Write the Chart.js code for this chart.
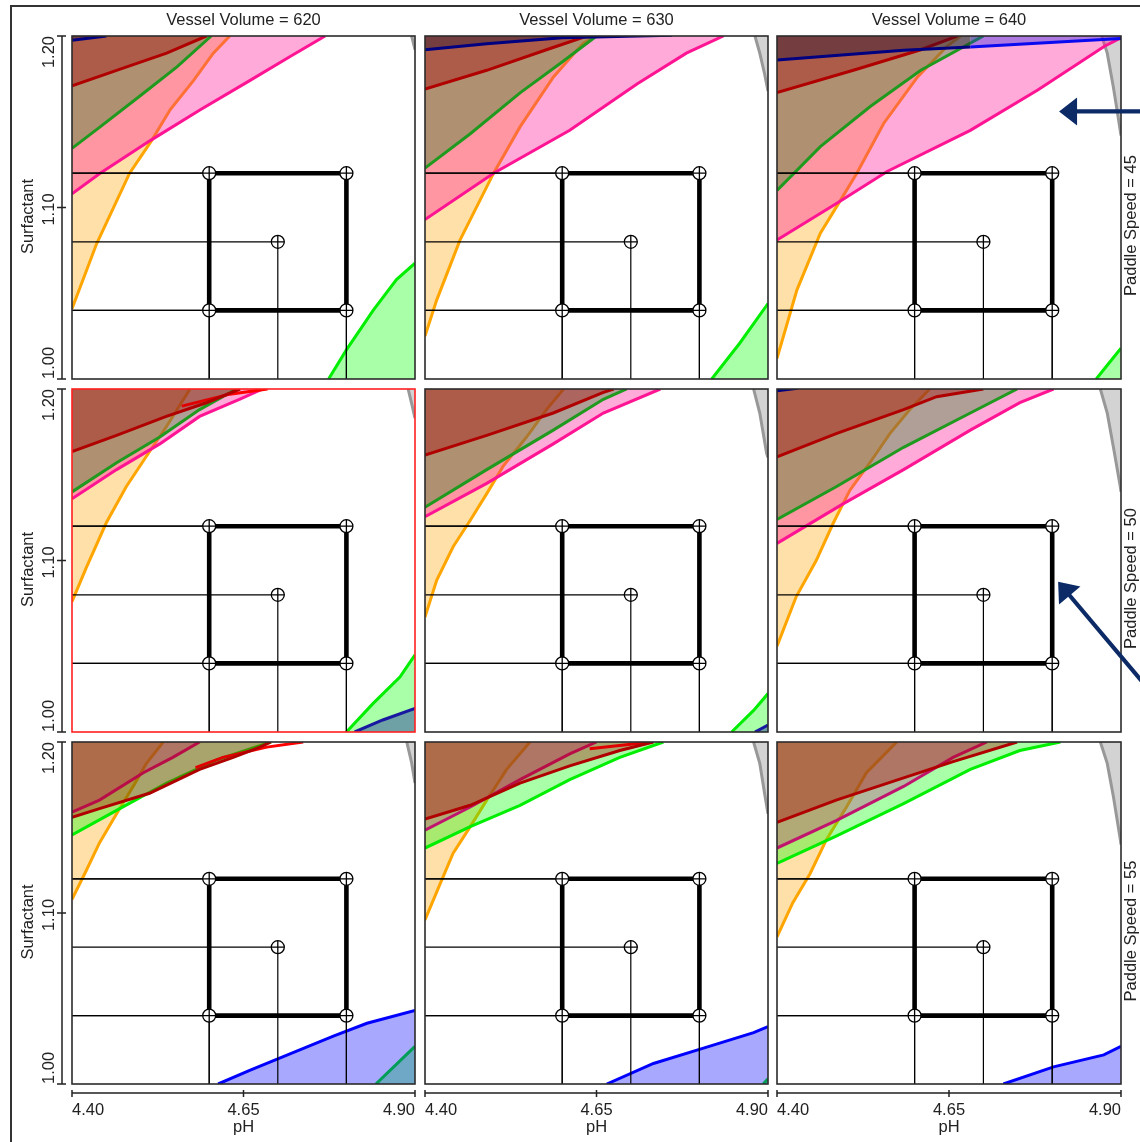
<!DOCTYPE html>
<html>
<head>
<meta charset="utf-8">
<title>Design space by paddle speed and vessel volume</title>
<script src="https://cdn.jsdelivr.net/npm/chart.js@4.4.1/dist/chart.umd.min.js"></script>
<style>
  html, body { margin: 0; padding: 0; background: #fff; }
  #page { position: relative; width: 1140px; height: 1142px; overflow: hidden; background: #fff; }
  #frame { position: absolute; left: 10px; top: 5px; width: 1400px; height: 1400px;
           border-left: 2px solid #333; border-top: 2px solid #333; }
  canvas { position: absolute; }
</style>
</head>
<body>
<div id="page"><div id="frame"></div></div>
<script>
// ---- facet levels and axes ----
const volumes = [620, 630, 640];          // columns
const speeds = [45, 50, 55];              // rows
const phTicks = [4.40, 4.65, 4.90];
const surfTicks = [1.00, 1.10, 1.20];
const phRange = [4.40, 4.90];
const surfRange = [1.00, 1.20];

// ---- design points: factorial corners and centre ----
const designPH   = [4.60, 4.60, 4.80, 4.80, 4.70];
const designSurf = [1.04, 1.12, 1.04, 1.12, 1.08];
const boxPH   = [4.60, 4.80, 4.80, 4.60, 4.60];
const boxSurf = [1.04, 1.04, 1.12, 1.12, 1.04];

// ---- response limit contours, indexed [speed row][volume column], points [pH, surfactant] ----
const grayEdge = [
  [[[4.895,1.20],[4.90,1.192]],
   [[4.881,1.20],[4.888,1.19],[4.895,1.178],[4.90,1.168]],
   [[4.872,1.20],[4.88,1.19],[4.889,1.17],[4.895,1.155],[4.90,1.142]]],
  [[[4.890,1.20],[4.896,1.19],[4.90,1.183]],
   [[4.879,1.20],[4.888,1.186],[4.898,1.1625],[4.90,1.16]],
   [[4.87,1.20],[4.88,1.186],[4.889,1.166],[4.899,1.143],[4.90,1.14]]],
  [[[4.888,1.20],[4.895,1.188],[4.90,1.176]],
   [[4.879,1.20],[4.888,1.1875],[4.895,1.17],[4.90,1.158]],
   [[4.87,1.20],[4.88,1.1875],[4.889,1.168],[4.899,1.143],[4.90,1.14]]]
];
const limeLowEdge = [
  [[[4.774,1.00],[4.80,1.017],[4.839,1.04],[4.873,1.058],[4.90,1.0675]],
   [[4.818,1.00],[4.859,1.021],[4.90,1.044]],
   [[4.864,1.00],[4.88,1.008],[4.90,1.018]]],
  [[[4.80,1.00],[4.839,1.0167],[4.878,1.032],[4.90,1.045]],
   [[4.847,1.00],[4.879,1.0126],[4.90,1.0224]],
   null],
  [[[4.843,1.00],[4.90,1.022]],
   [[4.893,1.00],[4.90,1.003]],
   null]
];
const navyLowEdge = [
  [null, null, null],
  [[[4.812,1.00],[4.853,1.007],[4.90,1.0138]],
   [[4.881,1.00],[4.90,1.004]],
   null],
  [null, null, null]
];
const blueLowEdge = [
  [null, null, null],
  [null, null, null],
  [[[4.613,1.00],[4.659,1.008],[4.708,1.016],[4.781,1.028],[4.83,1.0355],[4.90,1.043]],
   [[4.665,1.00],[4.733,1.012],[4.806,1.021],[4.879,1.030],[4.90,1.0335]],
   [[4.729,1.00],[4.802,1.010],[4.875,1.017],[4.90,1.022]]]
];
const orangeEdge = [
  [[[4.40,1.041],[4.436,1.079],[4.484,1.12],[4.516,1.139],[4.543,1.157],[4.577,1.174],[4.606,1.19],[4.630,1.20]],
   [[4.40,1.025],[4.417,1.046],[4.451,1.081],[4.50,1.12],[4.5385,1.147],[4.587,1.176],[4.631,1.196],[4.650,1.20]],
   [[4.40,1.012],[4.429,1.052],[4.463,1.085],[4.492,1.104],[4.516,1.12],[4.555,1.149],[4.604,1.176],[4.647,1.194],[4.667,1.20]]],
  [[[4.40,1.076],[4.421,1.096],[4.45,1.122],[4.479,1.143],[4.508,1.1605],[4.5375,1.178],[4.572,1.20]],
   [[4.40,1.067],[4.417,1.0885],[4.441,1.108],[4.466,1.1235],[4.49,1.139],[4.514,1.155],[4.548,1.172],[4.577,1.188],[4.602,1.20]],
   [[4.40,1.050],[4.428,1.079],[4.457,1.100],[4.482,1.122],[4.506,1.141],[4.535,1.157],[4.564,1.174],[4.593,1.188],[4.622,1.20]]],
  [[[4.40,1.108],[4.421,1.125],[4.44,1.141],[4.465,1.158],[4.489,1.174],[4.5085,1.1875],[4.533,1.20]],
   [[4.40,1.096],[4.422,1.117],[4.441,1.135],[4.466,1.1505],[4.49,1.166],[4.519,1.184],[4.553,1.20]],
   [[4.40,1.086],[4.423,1.106],[4.448,1.123],[4.472,1.143],[4.501,1.162],[4.530,1.182],[4.574,1.20]]]
];
const pinkEdge = [
  [[[4.40,1.108],[4.441,1.12],[4.514,1.139],[4.587,1.157],[4.659,1.174],[4.718,1.188],[4.769,1.20]],
   [[4.40,1.093],[4.50,1.12],[4.611,1.145],[4.709,1.172],[4.781,1.19],[4.835,1.20]],
   [[4.40,1.081],[4.487,1.1025],[4.56,1.121],[4.681,1.145],[4.779,1.1685],[4.876,1.194],[4.90,1.199]]],
  [[[4.40,1.136],[4.465,1.153],[4.528,1.168],[4.586,1.184],[4.644,1.194],[4.678,1.20]],
   [[4.40,1.1255],[4.49,1.145],[4.587,1.168],[4.66,1.186],[4.743,1.20]],
   [[4.40,1.110],[4.496,1.133],[4.584,1.153],[4.681,1.176],[4.753,1.192],[4.802,1.20]]],
  [null, null, null]
];
const greenEdge = [
  [[[4.40,1.1345],[4.441,1.147],[4.499,1.165],[4.553,1.182],[4.603,1.20]],
   [[4.40,1.123],[4.466,1.143],[4.539,1.167],[4.597,1.184],[4.65,1.20]],
   [[4.40,1.110],[4.463,1.1355],[4.536,1.159],[4.609,1.180],[4.70,1.20]]],
  [[[4.40,1.140],[4.465,1.157],[4.528,1.172],[4.586,1.188],[4.64,1.20]],
   [[4.40,1.131],[4.49,1.153],[4.587,1.176],[4.66,1.194],[4.694,1.20]],
   [[4.40,1.124],[4.486,1.143],[4.584,1.166],[4.681,1.186],[4.749,1.20]]],
  [null, null, null]
];
const limeHighEdge = [
  [null, null, null],
  [null, null, null],
  [[[4.40,1.1456],[4.465,1.160],[4.538,1.176],[4.611,1.1895],[4.69,1.20]],
   [[4.40,1.138],[4.466,1.1505],[4.5385,1.163],[4.611,1.178],[4.684,1.191],[4.7475,1.20]],
   [[4.40,1.129],[4.486,1.145],[4.584,1.164],[4.681,1.184],[4.753,1.195],[4.812,1.20]]]
];
const magentaEdge = [
  [null, null, null],
  [null, null, null],
  [[[4.40,1.159],[4.44,1.166],[4.504,1.182],[4.547,1.191],[4.586,1.20]],
   [[4.40,1.1485],[4.466,1.162],[4.5385,1.178],[4.611,1.193],[4.65,1.20]],
   [[4.40,1.138],[4.486,1.154],[4.584,1.174],[4.656,1.191],[4.705,1.20]]]
];
const redEdge = [
  [null, null, null],
  [[[4.56,1.190],[4.63,1.197],[4.685,1.20]], null, null],
  [[[4.58,1.185],[4.62,1.191],[4.684,1.197],[4.737,1.20]],
   [[4.64,1.196],[4.73,1.20]],
   null]
];
const darkRedEdge = [
  [[[4.40,1.171],[4.465,1.180],[4.538,1.19],[4.596,1.20]],
   [[4.40,1.169],[4.49,1.180],[4.577,1.192],[4.636,1.20]],
   [[4.40,1.167],[4.511,1.180],[4.609,1.192],[4.662,1.20]]],
  [[[4.40,1.1635],[4.465,1.173],[4.5375,1.184],[4.596,1.192],[4.645,1.20]],
   [[4.40,1.1615],[4.49,1.173],[4.587,1.186],[4.66,1.198],[4.675,1.20]],
   [[4.40,1.1605],[4.486,1.174],[4.584,1.188],[4.632,1.1955],[4.70,1.20]]],
  [[[4.40,1.156],[4.44,1.161],[4.513,1.170],[4.586,1.184],[4.635,1.191],[4.674,1.197],[4.69,1.20]],
   [[4.40,1.155],[4.466,1.163],[4.5385,1.176],[4.611,1.186],[4.684,1.195],[4.733,1.20]],
   [[4.40,1.153],[4.486,1.166],[4.584,1.179],[4.656,1.1885],[4.749,1.20]]]
];
const navyHighEdge = [
  [[[4.40,1.1975],[4.45,1.20]],
   [[4.40,1.192],[4.49,1.1955],[4.60,1.199],[4.76,1.2005]],
   [[4.40,1.186],[4.584,1.1917],[4.681,1.1936],[4.90,1.1985]]],
  [null, null, [[4.40,1.199],[4.43,1.2005]]],
  [null, null, null]
];

// ---- drawing styles (bottom layer first) ----
const layers = [
  { edge: grayEdge,     line: '#989898', fill: 'rgba(150,150,150,0.42)', side: 'end' },
  { edge: limeLowEdge,  line: '#00ee00', fill: 'rgba(0,255,0,0.34)',     side: 'start' },
  { edge: navyLowEdge,  line: '#1818a0', fill: 'rgba(20,20,160,0.40)',   side: 'start' },
  { edge: blueLowEdge,  line: '#0000ff', fill: 'rgba(0,0,255,0.34)',     side: 'start' },
  { edge: orangeEdge,   line: '#ffa500', fill: 'rgba(255,165,0,0.34)',   side: 'end' },
  { edge: pinkEdge,     line: '#ff1493', fill: 'rgba(255,20,147,0.36)',  side: 'end' },
  { edge: greenEdge,    line: '#1f9a1f', fill: 'rgba(34,139,34,0.36)',   side: 'end' },
  { edge: limeHighEdge, line: '#00ee00', fill: 'rgba(0,255,0,0.34)',     side: 'end' },
  { edge: magentaEdge,  line: '#c0156e', fill: 'rgba(199,21,133,0.30)',  side: 'end' },
  { edge: redEdge,      line: '#ff0000', fill: false,                    side: false },
  { edge: darkRedEdge,  line: '#b00000', fill: 'rgba(170,0,0,0.36)',     side: 'end' },
  { edge: navyHighEdge, line: '#000080', fill: 'rgba(30,15,50,0.40)', side: 'end',
    split: 4.62, lineRight: '#0a0af0', fillRight: 'rgba(30,30,240,0.36)' }
];

// annotation arrows: tip in data units, direction in screen space
const arrowNotes = [
  { row: 0, tip: [4.810, 1.156], dir: [1, 0] },
  { row: 1, tip: [4.8086, 1.0876], dir: [0.644, 0.765] }
];

// ---- page geometry ----
const PAGE_W = 1140, PAGE_H = 1142;
const colLeft = [72, 425, 777], colWidth = [343, 343, 344];
const rowTop = [36, 389, 742], rowHeight = [343, 343, 342];
const FONT = '16.5px "Liberation Sans", Arial, sans-serif';
const INK = '#222';

function rotatedText(ctx, text, x, y, align) {
  ctx.save();
  ctx.translate(x, y);
  ctx.rotate(-Math.PI / 2);
  ctx.textAlign = align;
  ctx.textBaseline = 'middle';
  ctx.fillText(text, 0, 0);
  ctx.restore();
}

const latticePlugin = {
  id: 'lattice',
  afterDraw(chart) {
    const { ctx, chartArea: a } = chart;
    const xs = chart.scales.x, ys = chart.scales.y;
    const { row, col } = chart.options.plugins.lattice;
    ctx.save();

    // panel border (highlighted panel in red)
    ctx.lineWidth = 1.6;
    ctx.strokeStyle = (row === 1 && col === 0) ? '#ff2020' : '#2b2b2b';
    ctx.strokeRect(a.left, a.top, a.right - a.left, a.bottom - a.top);

    ctx.fillStyle = INK;
    ctx.strokeStyle = INK;
    ctx.font = FONT;

    // y axis on the left column
    if (col === 0) {
      const ax = a.left - 10;
      ctx.lineWidth = 1.5;
      ctx.beginPath();
      ctx.moveTo(ax, ys.getPixelForValue(surfRange[0]));
      ctx.lineTo(ax, ys.getPixelForValue(surfRange[1]));
      surfTicks.forEach(v => {
        const py = ys.getPixelForValue(v);
        ctx.moveTo(ax - 5, py);
        ctx.lineTo(ax + 4, py);
      });
      ctx.stroke();
      surfTicks.forEach((v, i) => {
        const py = ys.getPixelForValue(v);
        const align = i === 0 ? 'left' : (i === surfTicks.length - 1 ? 'right' : 'center');
        rotatedText(ctx, v.toFixed(2), a.left - 23, i === 1 ? py + 2 : py, align);
      });
      rotatedText(ctx, 'Surfactant', a.left - 44, (a.top + a.bottom) / 2 + 9, 'center');
    }

    // x axis on the bottom row
    if (row === 2) {
      const ay = a.bottom + 9;
      ctx.lineWidth = 1.5;
      ctx.beginPath();
      ctx.moveTo(xs.getPixelForValue(phRange[0]), ay);
      ctx.lineTo(xs.getPixelForValue(phRange[1]), ay);
      phTicks.forEach(v => {
        const px = xs.getPixelForValue(v);
        ctx.moveTo(px, ay - 3);
        ctx.lineTo(px, ay + 4);
      });
      ctx.stroke();
      ctx.textBaseline = 'middle';
      phTicks.forEach((v, i) => {
        ctx.textAlign = i === 0 ? 'left' : (i === phTicks.length - 1 ? 'right' : 'center');
        ctx.fillText(v.toFixed(2), xs.getPixelForValue(v), a.bottom + 26);
      });
      ctx.textAlign = 'center';
      ctx.fillText('pH', (a.left + a.right) / 2, a.bottom + 43);
    }

    // column strip on top
    if (row === 0) {
      ctx.textAlign = 'center';
      ctx.textBaseline = 'middle';
      ctx.fillText('Vessel Volume = ' + volumes[col], (a.left + a.right) / 2, a.top - 16);
    }

    // row strip on the right, with annotation arrows
    if (col === 2) {
      rotatedText(ctx, 'Paddle Speed = ' + speeds[row], a.right + 10.5, (a.top + a.bottom) / 2 + 18, 'center');
      arrowNotes.filter(n => n.row === row).forEach(n => {
        const tx = xs.getPixelForValue(n.tip[0]);
        const ty = ys.getPixelForValue(n.tip[1]);
        const [dx, dy] = n.dir;
        const headLen = 18, headHalf = 14;
        const bx = tx + dx * headLen, by = ty + dy * headLen;
        const reach = (chart.width - tx) / dx + 10;
        ctx.strokeStyle = '#0b2a66';
        ctx.fillStyle = '#0b2a66';
        ctx.lineWidth = 4.2;
        ctx.beginPath();
        ctx.moveTo(bx - dx * 2, by - dy * 2);
        ctx.lineTo(tx + dx * reach, ty + dy * reach);
        ctx.stroke();
        ctx.beginPath();
        ctx.moveTo(tx, ty);
        ctx.lineTo(bx - dy * headHalf, by + dx * headHalf);
        ctx.lineTo(bx + dy * headHalf, by - dx * headHalf);
        ctx.closePath();
        ctx.fill();
      });
    }
    ctx.restore();
  }
};

function toXY(pts) { return pts.map(p => ({ x: p[0], y: p[1] })); }

function panelDatasets(r, c) {
  const sets = [];
  // design overlay: markers, box, drop lines (on top)
  sets.push({
    data: designPH.map((p, i) => ({ x: p, y: designSurf[i] })),
    showLine: false, pointStyle: 'cross', pointRadius: 6.5,
    pointBorderColor: '#000', pointBorderWidth: 1.3, order: 0
  });
  sets.push({
    data: designPH.map((p, i) => ({ x: p, y: designSurf[i] })),
    showLine: false, pointStyle: 'circle', pointRadius: 6.5,
    pointBackgroundColor: '#fff', pointBorderColor: '#000', pointBorderWidth: 1.3, order: 1
  });
  sets.push({
    data: boxPH.map((p, i) => ({ x: p, y: boxSurf[i] })),
    borderColor: '#000', borderWidth: 4.6, pointRadius: 0, fill: false, order: 2
  });
  designPH.forEach((p, i) => {
    const s = designSurf[i];
    sets.push({ data: [{ x: phRange[0], y: s }, { x: p, y: s }],
      borderColor: '#000', borderWidth: 1.2, pointRadius: 0, fill: false, order: 3 });
    sets.push({ data: [{ x: p, y: surfRange[0] }, { x: p, y: s }],
      borderColor: '#000', borderWidth: 1.2, pointRadius: 0, fill: false, order: 3 });
  });
  // response limit regions, later layers above earlier ones
  layers.forEach((L, k) => {
    const pts = L.edge[r][c];
    if (!pts) return;
    const ds = {
      data: toXY(pts), borderColor: L.line, borderWidth: 3, pointRadius: 0,
      fill: L.side, backgroundColor: L.fill || 'rgba(0,0,0,0)', order: 100 - k, clip: 0
    };
    if (L.lineRight) {
      ds.segment = {
        borderColor: ctx => ctx.p0.parsed.x < L.split ? L.line : L.lineRight,
        backgroundColor: ctx => ctx.p0.parsed.x < L.split ? L.fill : L.fillRight
      };
    }
    sets.push(ds);
  });
  return sets;
}

const page = document.getElementById('page');
for (let r = 0; r < 3; r++) {
  for (let c = 0; c < 3; c++) {
    const padL = c === 0 ? colLeft[0] : 4;
    const padR = c === 2 ? PAGE_W - (colLeft[2] + colWidth[2]) : 4;
    const padT = r === 0 ? rowTop[0] : 4;
    const padB = r === 2 ? PAGE_H - (rowTop[2] + rowHeight[2]) : 4;
    const cv = document.createElement('canvas');
    cv.width = colWidth[c] + padL + padR;
    cv.height = rowHeight[r] + padT + padB;
    cv.style.left = (colLeft[c] - padL) + 'px';
    cv.style.top = (rowTop[r] - padT) + 'px';
    cv.style.width = cv.width + 'px';
    cv.style.height = cv.height + 'px';
    page.appendChild(cv);
    new Chart(cv, {
      type: 'line',
      data: { datasets: panelDatasets(r, c) },
      options: {
        responsive: false, devicePixelRatio: 1, animation: false, events: [],
        layout: { autoPadding: false, padding: { left: padL, right: padR, top: padT, bottom: padB } },
        scales: {
          x: { type: 'linear', min: phRange[0], max: phRange[1], display: false },
          y: { type: 'linear', min: surfRange[0], max: surfRange[1], display: false }
        },
        plugins: { legend: { display: false }, tooltip: { enabled: false }, lattice: { row: r, col: c } }
      },
      plugins: [latticePlugin]
    });
  }
}
</script>
</body>
</html>
